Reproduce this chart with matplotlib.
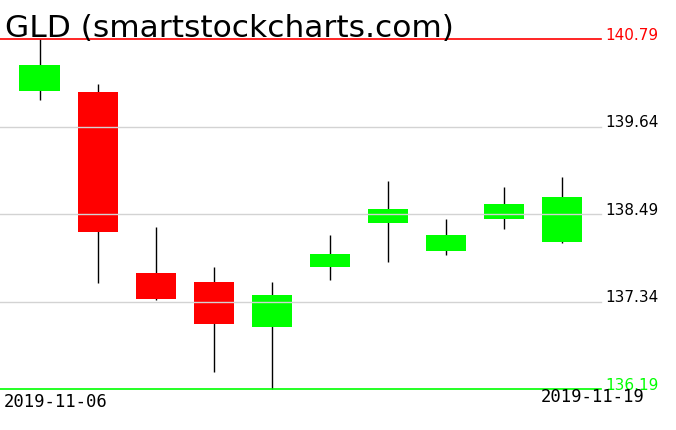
import matplotlib
matplotlib.use("Agg")
import matplotlib.pyplot as plt
import matplotlib.transforms as mtransforms

# ---- data ----
dates = ["2019-11-06", "2019-11-07", "2019-11-08", "2019-11-11", "2019-11-12",
         "2019-11-13", "2019-11-14", "2019-11-15", "2019-11-18", "2019-11-19"]
opens = [140.11, 140.10, 137.72, 137.60, 137.01, 137.79, 138.37, 138.01, 138.42, 138.12]
highs = [140.79, 140.20, 138.32, 137.79, 137.59, 138.21, 138.93, 138.42, 138.84, 138.97]
lows = [139.99, 137.58, 137.36, 136.42, 136.19, 137.62, 137.86, 137.95, 138.29, 138.11]
closes = [140.45, 138.25, 137.37, 137.04, 137.42, 137.97, 138.55, 138.21, 138.62, 138.71]
price_levels = [140.79, 139.64, 138.49, 137.34, 136.19]
title = "GLD (smartstockcharts.com)"

W, H = 676, 431
fig = plt.figure(figsize=(W / 100, H / 100), dpi=100)
ax = fig.add_axes([0, 0, 1, 1])
ax.set_axis_off()

# pixel mapping helpers (layout only)
x0_px, step_px = 39.5, 58.0
ax.set_xlim((0 - x0_px) / step_px, (W - x0_px) / step_px)
top_px, bot_px = 40.0, 390.0
ppu = (bot_px - top_px) / (price_levels[0] - price_levels[-1])
ax.set_ylim(price_levels[-1] - (H - bot_px) / ppu, price_levels[0] + top_px / ppu)

body_w = 40.0 / step_px
for i, (o, h, l, c) in enumerate(zip(opens, highs, lows, closes)):
    col = "#00ff00" if c >= o else "#ff0000"
    ax.vlines(i, l, h, color="black", linewidth=1.0, zorder=2)
    lo, hi = min(o, c), max(o, c)
    ax.bar(i, hi - lo, bottom=lo, width=body_w, color=col, edgecolor="none", zorder=3)

line_end = 601 / W
for k, lv in enumerate(price_levels):
    if k == 0:
        col = "#ff0000"
    elif k == len(price_levels) - 1:
        col = "#00ff00"
    else:
        col = "#d3d3d3"
    ax.axhline(lv, xmin=0, xmax=line_end, color=col, linewidth=1.2 if col != "#d3d3d3" else 1.0, zorder=4)
    tcol = col if col != "#d3d3d3" else "black"
    trans = mtransforms.blended_transform_factory(ax.transAxes, ax.transData)
    ax.text(605 / W, lv, f"{lv:.2f}", transform=trans, color=tcol, fontsize=11,
            family="DejaVu Sans", va="baseline", ha="left", zorder=5)

fig.text(5 / W, 1 - 37 / H, title, fontsize=22.5, family="DejaVu Sans",
         color="black", va="baseline", ha="left")

fig.text(4 / W, 1 - 407 / H, dates[0], fontsize=12.4, family="DejaVu Sans Mono",
         color="black", va="baseline", ha="left")
fig.text(645 / W, 1 - 402 / H, dates[-1], fontsize=12.4, family="DejaVu Sans Mono",
         color="black", va="baseline", ha="right")

fig.savefig("out.png", dpi=100, facecolor="white")
